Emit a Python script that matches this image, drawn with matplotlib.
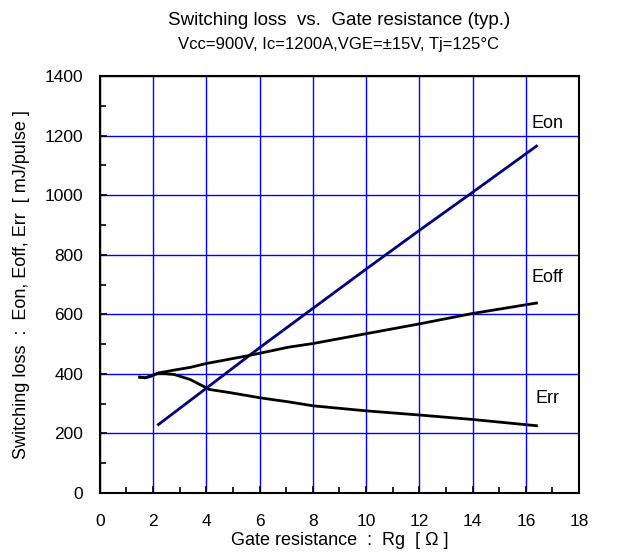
import matplotlib
matplotlib.use('Agg')
import matplotlib.pyplot as plt
from matplotlib.ticker import MultipleLocator

plt.rcParams['font.family'] = ['Liberation Sans', 'DejaVu Sans']

# Eon (straight-ish line)
rg_on = [2.2, 4, 6, 8, 10, 12, 14, 16.4]
eon = [230, 352, 488, 620, 752, 882, 1010, 1165]

# Eoff
rg_off = [1.5, 1.7, 1.9, 2.2, 2.8, 3.4, 4.0, 5.5, 7.1, 8, 10, 12, 14, 16.4]
eoff = [389, 387, 392, 403, 413, 422, 435, 460, 490, 502, 535, 568, 603, 638]

# Err
rg_rr = [1.5, 1.7, 1.9, 2.2, 2.8, 3.4, 3.9, 4.1, 4.9, 6.0, 7.1, 8, 10, 12, 14, 16.4]
err = [389, 387, 392, 403, 398, 381, 358, 348, 337, 320, 306, 293, 276, 262, 247, 226]


def main():
    fig = plt.figure(figsize=(6.24, 5.6), dpi=100)
    ax = fig.add_axes([0.160, 0.1196, 0.768, 0.7444])

    ax.set_xlim(0, 18)
    ax.set_ylim(0, 1400)
    ax.xaxis.set_major_locator(MultipleLocator(2))
    ax.xaxis.set_minor_locator(MultipleLocator(1))
    ax.yaxis.set_major_locator(MultipleLocator(200))
    ax.yaxis.set_minor_locator(MultipleLocator(100))
    ax.tick_params(which='both', direction='in', labelsize=12.5, color='black')
    ax.tick_params(which='major', length=5, width=1.2)
    ax.tick_params(which='minor', length=4, width=1.2)
    ax.tick_params(axis='x', which='major', pad=15)
    ax.tick_params(axis='y', which='major', pad=12)
    for s in ax.spines.values():
        s.set_linewidth(1.5)
        s.set_color('black')

    ax.grid(True, which='major', color='#0000ff', linewidth=1)
    ax.set_axisbelow(True)

    ax.plot(rg_on, eon, color='#000080', linewidth=2)
    ax.plot(rg_off, eoff, color='black', linewidth=2)
    ax.plot(rg_rr, err, color='black', linewidth=2)

    ax.text(16.8, 1240, 'Eon', fontsize=13, ha='center', va='center')
    ax.text(16.8, 725, 'Eoff', fontsize=13, ha='center', va='center')
    ax.text(16.8, 318, 'Err', fontsize=13, ha='center', va='center')

    ax.set_xlabel('Gate resistance  :  Rg  [ Ω ]', fontsize=13, va='center')
    ax.xaxis.set_label_coords(0.5, -0.113)
    ax.set_ylabel('Switching loss  :  Eon, Eoff, Err  [ mJ/pulse ]', fontsize=13, va='center')
    ax.yaxis.set_label_coords(-0.163, 0.5)

    fig.text(0.543, 0.964, 'Switching loss  vs.  Gate resistance (typ.)', fontsize=13.5,
             ha='center', va='center')
    fig.text(0.543, 0.920, 'Vcc=900V, Ic=1200A,VGE=±15V, Tj=125°C', fontsize=12,
             ha='center', va='center')

    fig.savefig('out.png', dpi=100)


if __name__ == '__main__':
    main()
